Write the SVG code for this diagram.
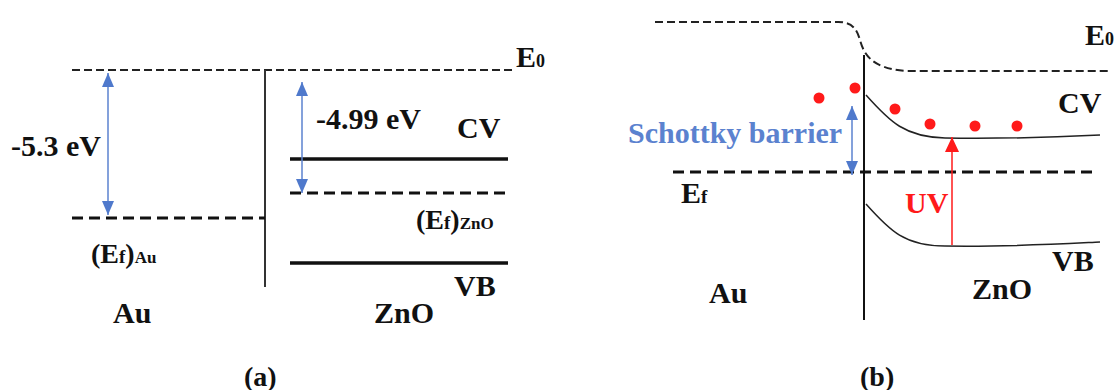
<svg xmlns="http://www.w3.org/2000/svg" width="1115" height="390" viewBox="0 0 1115 390">
<style>
text{font-family:"Liberation Serif","Times New Roman",serif;font-weight:bold;fill:#111}
.lbl{font-size:30px}
.sm{font-size:18px}
.thin{fill:none;stroke:#222;stroke-width:2;stroke-dasharray:8 4}
.fermi{fill:none;stroke:#111;stroke-width:3;stroke-dasharray:11 6}
.band{fill:none;stroke:#111;stroke-width:3.5}
.curve{fill:none;stroke:#222;stroke-width:1.5}
.blue{fill:none;stroke:#5b82cf;stroke-width:1.5}
</style>
<defs>
<marker id="bh" viewBox="0 0 14 12" refX="14" refY="6" markerWidth="14" markerHeight="12" markerUnits="userSpaceOnUse" orient="auto-start-reverse"><path d="M0,0 L14,6 L0,12 Z" fill="#4f79cc"/></marker>
<marker id="rh" viewBox="0 0 15 14" refX="15" refY="7" markerWidth="15" markerHeight="14" markerUnits="userSpaceOnUse" orient="auto"><path d="M0,0 L15,7 L0,14 Z" fill="#ff1a1a"/></marker>
</defs>
<g id="panel-a">
<g id="a-levels">
<line class="thin" x1="72" y1="70" x2="515" y2="70"/>
<line x1="265" y1="70" x2="265" y2="287" stroke="#333" stroke-width="2"/>
<line class="fermi" x1="72" y1="218" x2="265" y2="218"/>
<line class="band" x1="290" y1="159" x2="508" y2="159"/>
<line class="fermi" x1="290" y1="193" x2="508" y2="193"/>
<line class="band" x1="290" y1="263" x2="508" y2="263"/>
</g>
<g id="a-arrows">
<line class="blue" x1="108" y1="73" x2="108" y2="215" marker-start="url(#bh)" marker-end="url(#bh)"/>
<line class="blue" x1="302" y1="82" x2="302" y2="193" marker-start="url(#bh)" marker-end="url(#bh)"/>
</g>
<g id="a-labels">
<text class="lbl" x="516" y="67">E<tspan class="sm">0</tspan></text>
<text class="lbl" x="11" y="156">-5.3 eV</text>
<text class="lbl" x="316" y="129">-4.99 eV</text>
<text class="lbl" x="457" y="138">CV</text>
<text x="91" y="263" font-size="28">(E<tspan font-size="19">f</tspan>)<tspan font-size="17">Au</tspan></text>
<text x="416" y="229" font-size="28">(E<tspan font-size="19">f</tspan>)<tspan font-size="17">ZnO</tspan></text>
<text class="lbl" x="454" y="296">VB</text>
<text class="lbl" x="113" y="323">Au</text>
<text class="lbl" x="374" y="323">ZnO</text>
<text x="244" y="386" font-size="28">(a)</text>
</g>
</g>
<g id="panel-b">
<g id="b-levels">
<path class="thin" d="M655,22 H838 C853,22 857,30 860,40 C864,55 872,68 905,71 H1110"/>
<line x1="864" y1="55" x2="864" y2="320" stroke="#111" stroke-width="2"/>
<line class="fermi" x1="673" y1="172" x2="1092" y2="172" stroke-width="3.5" stroke-dasharray="12 6"/>
<path class="curve" d="M866,95 C890,122 905,137 945,138 C1010,139 1060,137 1100,135"/>
<path class="curve" d="M866,204 C890,231 905,246 945,246 C1010,247 1060,244 1100,242"/>
</g>
<g id="b-electrons" fill="#ff1a1a">
<circle cx="819" cy="98" r="5.5"/>
<circle cx="855" cy="88" r="5.5"/>
<circle cx="895" cy="109" r="5.5"/>
<circle cx="930" cy="124" r="5.5"/>
<circle cx="975" cy="126" r="5.5"/>
<circle cx="1017" cy="126" r="5.5"/>
</g>
<g id="b-arrows">
<line class="blue" x1="852" y1="106" x2="852" y2="175" marker-start="url(#bh)" marker-end="url(#bh)"/>
<line x1="952" y1="245" x2="952" y2="137" stroke="#ff1a1a" stroke-width="1.5" marker-end="url(#rh)"/>
</g>
<g id="b-labels">
<text class="lbl" x="1085" y="45">E<tspan class="sm">0</tspan></text>
<text class="lbl" x="1058" y="113">CV</text>
<text class="lbl" x="628" y="143" style="fill:#5b82cf">Schottky barrier</text>
<text class="lbl" x="681" y="203">E<tspan font-size="19">f</tspan></text>
<text class="lbl" x="905" y="213" style="fill:#ff1a1a">UV</text>
<text class="lbl" x="1052" y="271">VB</text>
<text class="lbl" x="709" y="303">Au</text>
<text class="lbl" x="972" y="299">ZnO</text>
<text x="860" y="386" font-size="28">(b)</text>
</g>
</g>
</svg>
